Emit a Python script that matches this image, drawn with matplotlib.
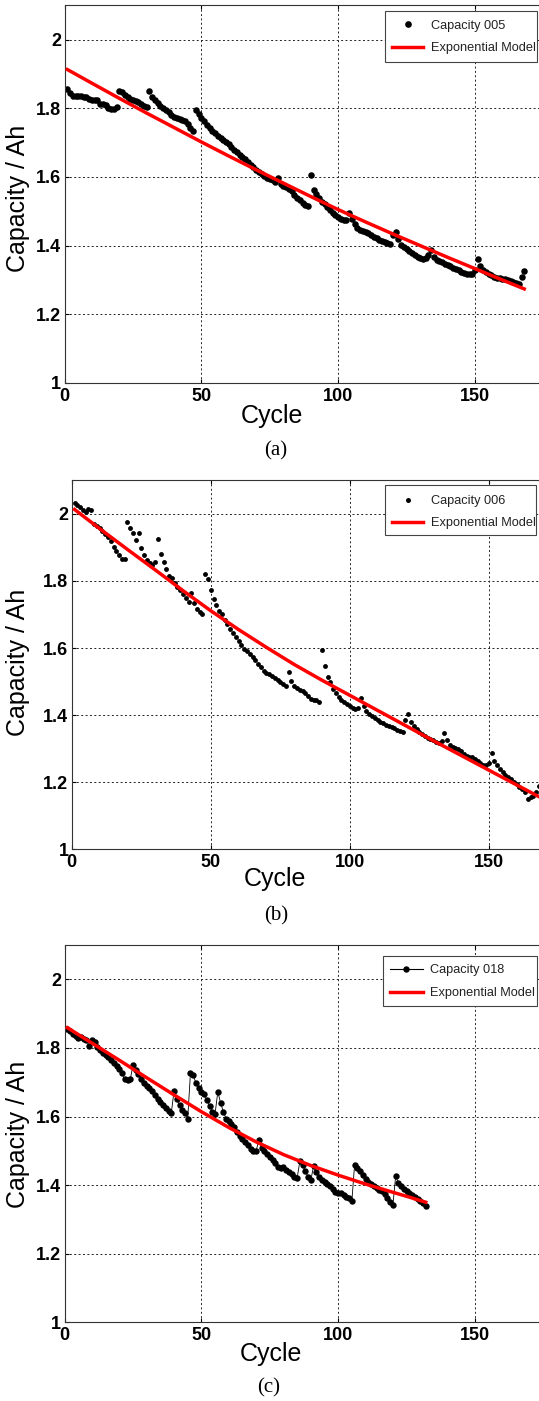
import numpy as np
import matplotlib
matplotlib.use("Agg")
import matplotlib.pyplot as plt
from matplotlib.lines import Line2D
from matplotlib.patches import Rectangle

plt.rcParams['font.family'] = ['Liberation Sans', 'DejaVu Sans']

# ---------------- data ----------------
cap005 = [
    1.856, 1.846, 1.837, 1.836, 1.836, 1.837, 1.834, 1.834, 1.826, 1.824,
    1.825, 1.823, 1.814, 1.813, 1.810, 1.802, 1.799, 1.799, 1.803, 1.849,
    1.848, 1.838, 1.832, 1.826, 1.824, 1.822, 1.818, 1.814, 1.808, 1.803,
    1.850, 1.832, 1.823, 1.816, 1.808, 1.800, 1.794, 1.788, 1.780, 1.776,
    1.773, 1.770, 1.767, 1.764, 1.754, 1.744, 1.735, 1.794, 1.784, 1.772,
    1.762, 1.752, 1.742, 1.735, 1.728, 1.720, 1.714, 1.708, 1.702, 1.695,
    1.688, 1.680, 1.673, 1.665, 1.658, 1.651, 1.643, 1.636, 1.628, 1.621,
    1.614, 1.608, 1.602, 1.597, 1.593, 1.590, 1.586, 1.598, 1.580, 1.575,
    1.570, 1.566, 1.558, 1.548, 1.540, 1.532, 1.525, 1.519, 1.516, 1.605,
    1.562, 1.550, 1.538, 1.528, 1.520, 1.512, 1.505, 1.496, 1.488, 1.482,
    1.477, 1.474, 1.476, 1.496, 1.478, 1.462, 1.452, 1.446, 1.442, 1.440,
    1.436, 1.430, 1.426, 1.421, 1.417, 1.413, 1.410, 1.408, 1.406, 1.432,
    1.440, 1.418, 1.402, 1.396, 1.390, 1.384, 1.378, 1.372, 1.368, 1.364,
    1.362, 1.364, 1.374, 1.387, 1.368, 1.358, 1.355, 1.352, 1.348, 1.344,
    1.340, 1.336, 1.333, 1.328, 1.324, 1.320, 1.317, 1.316, 1.318, 1.330,
    1.360, 1.340, 1.328, 1.322, 1.318, 1.314, 1.310, 1.307, 1.305, 1.304,
    1.302, 1.300, 1.297, 1.294, 1.291, 1.288, 1.308, 1.326]

cap006 = [
    2.033, 2.027, 2.020, 2.010, 2.005, 2.013, 2.010, 1.970, 1.965, 1.958,
    1.950, 1.940, 1.930, 1.918, 1.902, 1.888, 1.876, 1.865, 1.865, 1.976,
    1.959, 1.944, 1.921, 1.944, 1.899, 1.878, 1.862, 1.852, 1.848, 1.855,
    1.924, 1.880, 1.855, 1.836, 1.815, 1.810, 1.795, 1.782, 1.772, 1.760,
    1.748, 1.738, 1.764, 1.735, 1.715, 1.708, 1.700, 1.822, 1.806, 1.773,
    1.745, 1.727, 1.710, 1.700, 1.684, 1.672, 1.658, 1.645, 1.632, 1.620,
    1.608, 1.598, 1.590, 1.582, 1.572, 1.563, 1.553, 1.542, 1.533, 1.526,
    1.524, 1.518, 1.512, 1.506, 1.500, 1.494, 1.488, 1.528, 1.503, 1.488,
    1.480, 1.474, 1.472, 1.466, 1.458, 1.448, 1.446, 1.444, 1.440, 1.594,
    1.545, 1.513, 1.499, 1.478, 1.466, 1.454, 1.446, 1.438, 1.432, 1.426,
    1.421, 1.419, 1.420, 1.452, 1.428, 1.412, 1.402, 1.396, 1.390, 1.386,
    1.380, 1.376, 1.372, 1.369, 1.365, 1.362, 1.357, 1.353, 1.349, 1.384,
    1.404, 1.379, 1.368, 1.358, 1.350, 1.344, 1.338, 1.333, 1.328, 1.325,
    1.320, 1.316, 1.322, 1.347, 1.327, 1.310, 1.305, 1.302, 1.299, 1.292,
    1.285, 1.279, 1.276, 1.275, 1.268, 1.262, 1.257, 1.252, 1.252, 1.256,
    1.287, 1.262, 1.250, 1.240, 1.230, 1.222, 1.216, 1.210, 1.202, 1.195,
    1.187, 1.180, 1.172, 1.150, 1.157, 1.160, 1.172, 1.188]

cap018 = [
    1.856, 1.848, 1.840, 1.834, 1.830, 1.832, 1.826, 1.822, 1.806, 1.824,
    1.816, 1.804, 1.795, 1.786, 1.779, 1.773, 1.765, 1.757, 1.746, 1.738,
    1.728, 1.708, 1.706, 1.708, 1.750, 1.736, 1.724, 1.708, 1.697, 1.689,
    1.682, 1.674, 1.663, 1.652, 1.641, 1.633, 1.625, 1.616, 1.610, 1.675,
    1.650, 1.634, 1.620, 1.611, 1.594, 1.727, 1.720, 1.698, 1.683, 1.670,
    1.666, 1.648, 1.630, 1.614, 1.608, 1.672, 1.640, 1.614, 1.594, 1.586,
    1.578, 1.568, 1.556, 1.542, 1.535, 1.525, 1.517, 1.505, 1.498, 1.500,
    1.531, 1.508, 1.498, 1.490, 1.482, 1.472, 1.463, 1.454, 1.449, 1.452,
    1.443, 1.437, 1.432, 1.425, 1.421, 1.470, 1.458, 1.441, 1.424, 1.415,
    1.455, 1.438, 1.425, 1.416, 1.410, 1.402, 1.396, 1.388, 1.381, 1.376,
    1.378, 1.372, 1.366, 1.362, 1.354, 1.460, 1.450, 1.440, 1.430, 1.419,
    1.410, 1.403, 1.398, 1.393, 1.387, 1.383, 1.373, 1.362, 1.352, 1.342,
    1.426, 1.405, 1.396, 1.390, 1.382, 1.376, 1.370, 1.364, 1.360, 1.354,
    1.348, 1.338]

model005_cycles = [1, 10, 20, 30, 40, 50, 60, 70, 80, 90, 100, 110, 120, 130, 140, 150, 160, 168]
model005_values = [1.913, 1.873, 1.829, 1.786, 1.744, 1.702, 1.661, 1.621, 1.582, 1.543,
                   1.505, 1.469, 1.434, 1.400, 1.366, 1.333, 1.300, 1.274]
model006_cycles = [1, 10, 20, 30, 40, 50, 60, 70, 80, 90, 100, 110, 120, 130, 140, 150, 160, 168]
model006_values = [2.013, 1.956, 1.894, 1.833, 1.771, 1.711, 1.655, 1.602, 1.551, 1.504,
                   1.459, 1.414, 1.369, 1.324, 1.280, 1.236, 1.192, 1.157]
model018_cycles = [1, 10, 20, 30, 40, 50, 60, 70, 80, 90, 100, 110, 120, 126, 132]
model018_values = [1.859, 1.814, 1.764, 1.713, 1.663, 1.614, 1.568, 1.526, 1.489, 1.457,
                   1.429, 1.403, 1.379, 1.365, 1.350]

xticks = [0, 50, 100, 150]
xtick_labels = ['0', '50', '100', '150']
yticks = [1.0, 1.2, 1.4, 1.6, 1.8, 2.0]
ytick_labels = ['1', '1.2', '1.4', '1.6', '1.8', '2']
legend_labels = [['Capacity 005', 'Exponential Model'],
                 ['Capacity 006', 'Exponential Model'],
                 ['Capacity 018', 'Exponential Model']]
captions = ['(a)', '(b)', '(c)']

# ---------------- layout ----------------
W, H = 539, 1401
fig = plt.figure(figsize=(W / 100, H / 100), dpi=100)


def fx(px):
    return px / W


def fy(py):
    return 1 - py / H


panels = [
    dict(left=64.6, top=5.3, bottom=383.0, ppc=2.736,
         frame=(385.0, 11.0, 537.3, 62.3), anchor=(391.7, 19.6), lspace=0.84,
         hlen=2.48, hpad=0.58,
         xlab=(272.3, 423.0), ylab=(18.0, 198.3), cap=(276.0, 451.0)),
    dict(left=71.8, top=480.3, bottom=849.3, ppc=2.78,
         frame=(385.0, 485.0, 535.7, 535.0), anchor=(391.7, 495.3), lspace=0.76,
         hlen=2.48, hpad=0.58,
         xlab=(275.0, 886.0), ylab=(18.0, 662.5), cap=(276.0, 916.0)),
    dict(left=64.6, top=945.0, bottom=1322.3, ppc=2.736,
         frame=(383.3, 955.5, 536.5, 1006.0), anchor=(389.5, 964.3), lspace=0.84,
         hlen=2.62, hpad=0.52,
         xlab=(270.6, 1360.6), ylab=(18.0, 1134.2), cap=(269.0, 1388.0)),
]

series = [cap005, cap006, cap018]
models = [(model005_cycles, model005_values),
          (model006_cycles, model006_values),
          (model018_cycles, model018_values)]

for i, p in enumerate(panels):
    width = p['ppc'] * 180
    ax = fig.add_axes([fx(p['left']), fy(p['bottom']), width / W,
                       (p['bottom'] - p['top']) / H])

    caps = series[i]
    cyc = np.arange(1, len(caps) + 1)
    if i == 0:
        ax.plot(cyc, caps, linestyle='none', marker='o', color='black',
                markersize=4.7, markeredgewidth=0, zorder=2)
        h0 = Line2D([], [], linestyle='none', marker='o', color='black',
                    markersize=4.8, markeredgewidth=0)
    elif i == 1:
        ax.plot(cyc, caps, linestyle='none', marker='o', color='black',
                markersize=3.5, markeredgewidth=0, zorder=2)
        h0 = Line2D([], [], linestyle='none', marker='o', color='black',
                    markersize=3.6, markeredgewidth=0)
    else:
        ax.plot(cyc, caps, linestyle='-', linewidth=0.6, marker='o', color='black',
                markersize=4.6, markeredgewidth=0, zorder=2)
        h0 = Line2D([], [], linestyle='-', linewidth=0.8, marker='o', color='black',
                    markersize=4.6, markeredgewidth=0)

    mc, mv = models[i]
    ax.plot(mc, mv, color='#ff0000', linewidth=2.5, zorder=3)
    h1 = Line2D([], [], color='#ff0000', linewidth=2.5)

    ax.set_xticks(xticks)
    ax.set_xticklabels(xtick_labels)
    ax.set_yticks(yticks)
    ax.set_yticklabels(ytick_labels)
    ax.grid(True, color='#222222', linestyle=(0, (2, 2.5)), linewidth=0.7)
    ax.set_axisbelow(True)
    ax.tick_params(axis='both', direction='in', length=3, width=0.8,
                   top=True, right=True, labelsize=13, colors='black')
    ax.tick_params(axis='x', pad=3.6)
    ax.tick_params(axis='y', pad=2.4)
    for lab in ax.get_xticklabels() + ax.get_yticklabels():
        lab.set_fontweight('bold')
    for s in ax.spines.values():
        s.set_color('#333333')
        s.set_linewidth(0.8)

    ax.set_xlabel('Cycle', fontsize=18, va='baseline', ha='center')
    ax.xaxis.set_label_coords(fx(p['xlab'][0]), fy(p['xlab'][1]), transform=fig.transFigure)
    ax.set_ylabel('Capacity / Ah', fontsize=18, va='center', ha='center')
    ax.yaxis.set_label_coords(fx(p['ylab'][0]), fy(p['ylab'][1]), transform=fig.transFigure)

    x0, y0, x1, y1 = p['frame']
    rect = Rectangle((fx(x0), fy(y1)), (x1 - x0) / W, (y1 - y0) / H,
                     transform=fig.transFigure, facecolor='white',
                     edgecolor='#444444', linewidth=0.8, zorder=4.5, clip_on=False)
    ax.add_patch(rect)
    leg = ax.legend([h0, h1], legend_labels[i], loc='upper left',
                    bbox_to_anchor=(fx(p['anchor'][0]), fy(p['anchor'][1])),
                    bbox_transform=fig.transFigure, frameon=False, borderpad=0,
                    borderaxespad=0, handlelength=p['hlen'], handletextpad=p['hpad'],
                    labelspacing=p['lspace'], fontsize=9.2, numpoints=1)
    leg.set_zorder(5)
    for t in leg.get_texts():
        t.set_color('#222222')

    ax.set_xlim(0, 180)
    ax.set_ylim(1, 2.1)

    fig.text(fx(p['cap'][0]), fy(p['cap'][1]), captions[i], family='Liberation Serif',
             fontsize=15, ha='center', va='center')

fig.savefig('out.png', dpi=100)
